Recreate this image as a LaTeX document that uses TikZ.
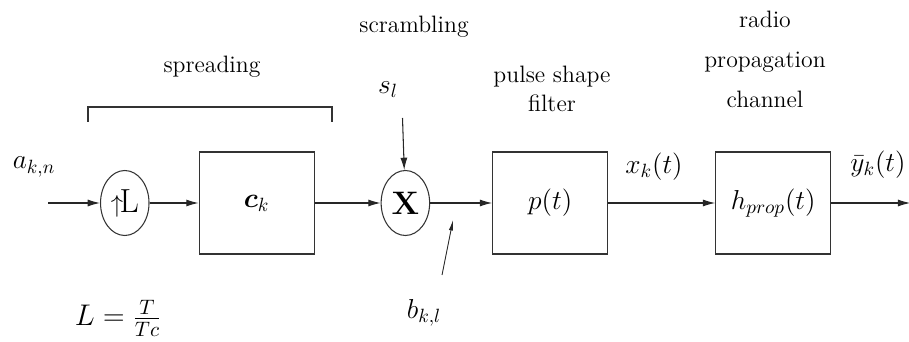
\RequirePackage{fix-cm}
\documentclass[tikz,border=0pt]{standalone}
\usepackage{amsmath}
\usepackage{tikz}
\usetikzlibrary{arrows.meta, positioning, shapes.geometric}

\begin{document}
\begin{tikzpicture}[
      blk/.style={rectangle, draw=black!80, line width=0.6pt, minimum width=23mm,
        minimum height=20.4mm, inner sep=0pt, font=\fontsize{15.6}{18}\selectfont},
      ops/.style={ellipse, draw=black!80, line width=0.6pt, minimum width=9.7mm,
        minimum height=13mm, inner sep=0pt},
      sym/.style={inner sep=0pt, font=\fontsize{15.6}{18}\selectfont},
      txt/.style={inner sep=0pt, align=center, font=\fontsize{13.5}{16.5}\selectfont},
      sig/.style={-{Latex[length=7pt, width=4pt]}, line width=0.6pt, draw=black!85},
      ptr/.style={-{Latex[length=6pt, width=2.4pt]}, line width=0.5pt, draw=black!85}
    ]
      \useasboundingbox (0,4.06) rectangle (18.18,-2.78);
      \coordinate (in) at (0.96,0);
      \node[ops, right=1.04cm of in] (up) {{\fontsize{14}{16}\selectfont$\uparrow$}\kern-2pt{\fontsize{19}{22}\selectfont L}};
      \node[blk, right=0.98cm of up] (ck) {$\boldsymbol{c}_k$};
      \node[ops, right=1.32cm of ck] (mult) {\fontsize{18.5}{22}\selectfont\bfseries X};
      \node[blk, right=1.24cm of mult] (pf) {$p(t)$};
      \node[blk, right=2.14cm of pf] (hp) {$h_{prop}(t)$};
      \coordinate[right=1.58cm of hp] (out);
      \coordinate (stop) at (8.05,1.70);
      \coordinate (btail) at (8.84,-1.44);
      \coordinate (bhead) at (9.06,-0.34);
      \draw[sig] (in) -- (up);
      \draw[sig] (up) -- (ck);
      \draw[sig] (ck) -- (mult);
      \draw[sig] (mult) -- (pf);
      \draw[sig] (pf) -- (hp);
      \draw[sig] (hp) -- (out);
      \draw[sig] (stop) -- (mult);
      \draw[ptr] (btail) -- (bhead);
      \draw[line width=0.6pt, draw=black!80] (1.76,1.62) |- (6.64,1.92) -- (6.64,1.62);
      \node[sym] (akn) at (0.68,0.72) {$a_{k,n}$};
      \node[sym, font=\fontsize{17}{20}\selectfont] (lrat) at (2.36,-2.30) {$L=\frac{T}{Tc}$};
      \node[sym] (sl) at (7.76,2.26) {$s_l$};
      \node[sym] (bkl) at (8.48,-2.20) {$b_{k,l}$};
      \node[sym] (xk) at (13.08,0.72) {$x_k(t)$};
      \node[sym] (yk) at (17.56,0.76) {$\bar{y}_k(t)$};
      \node[txt] (spr) at (4.24,2.73) {spreading};
      \node[txt] (scr) at (8.28,3.52) {scrambling};
      \node[txt] (psf) at (11.04,2.28) {pulse shape\\filter};
      \node[txt, font=\fontsize{13.5}{22.8}\selectfont] (rpc) at (15.3,2.88) {radio\\propagation\\channel};
    \end{tikzpicture}
\end{document}
